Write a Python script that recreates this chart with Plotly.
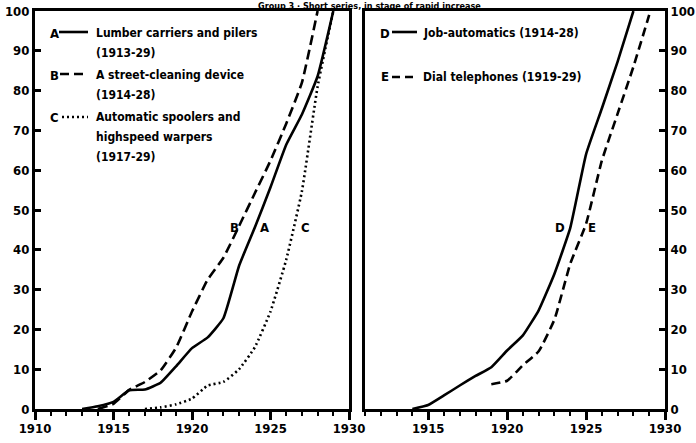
import plotly.graph_objects as go

# ---- data ----
years_A = list(range(1913, 1930))
vals_A = [0, 0.7, 1.8, 4.7, 4.9, 6.6, 10.8, 15.3, 18.0, 22.8, 36.0, 45.6, 55.7, 66.4, 74.0, 83.6, 100]

years_B = list(range(1914, 1929))
vals_B = [0, 1.3, 4.8, 6.8, 9.7, 15.5, 24.5, 32.5, 38.0, 46.0, 54.2, 62.4, 71.7, 82.0, 100]

years_C = list(range(1917, 1930))
vals_C = [0, 0.4, 1.2, 2.6, 5.9, 6.8, 10.0, 15.5, 24.5, 37.5, 54.7, 81.0, 100]

years_D = list(range(1914, 1929))
vals_D = [0, 1.0, 3.4, 5.9, 8.3, 10.5, 14.7, 18.5, 24.8, 34.0, 45.5, 64.0, 75.5, 87.3, 100]

years_E = list(range(1919, 1930))
vals_E = [6.2, 7.1, 11.0, 14.5, 22.5, 36.5, 46.5, 62.4, 74.2, 86.0, 99.0]

y_ticks = list(range(0, 101, 10))
x_ticks_left = [1910, 1915, 1920, 1925, 1930]
x_ticks_right = [1915, 1920, 1925, 1930]

title_text = "Group 3 \u00b7 Short series, in stage of rapid increase"

FONT = "DejaVu Sans Condensed, Liberation Sans Narrow, Roboto Condensed, Liberation Sans"
W, H = 696, 443

fig = go.Figure()

def add(x, y, dash, xa, ya):
    fig.add_trace(go.Scatter(x=x, y=y, mode="lines", xaxis=xa, yaxis=ya,
                             line=dict(color="black", width=2.6, dash=dash,
                                       shape="spline", smoothing=0.4),
                             showlegend=False, hoverinfo="skip", cliponaxis=True))

add(years_A, vals_A, "solid", "x", "y")
add(years_B, vals_B, "10px,5px", "x", "y")
add(years_C, vals_C, "2px,3px", "x", "y")
add(years_D, vals_D, "solid", "x2", "y2")
add(years_E, vals_E, "9px,5px", "x2", "y2")

def px(x):
    return x / W

def py(y):
    return 1 - y / H

ydom = [py(409), py(11)]
tickfont = dict(family=FONT, size=13, color="black", weight="bold")

common_x = dict(showline=True, linewidth=3, linecolor="black", mirror=True,
                ticks="outside", ticklen=8, tickwidth=2.5, tickcolor="black",
                minor=dict(dtick=1, ticks="outside", ticklen=4, tickwidth=2, tickcolor="black"),
                showgrid=False, zeroline=False, tickfont=tickfont, ticklabelstandoff=-3,
                automargin=False)
common_y = dict(showline=True, linewidth=3, linecolor="black", mirror=True,
                ticks="inside", ticklen=6, tickwidth=2.5, tickcolor="black",
                showgrid=False, zeroline=False, tickfont=tickfont, range=[0, 100],
                tickvals=y_ticks, domain=ydom, automargin=False)

fig.update_layout(
    width=W, height=H, margin=dict(l=0, r=0, t=0, b=0),
    paper_bgcolor="white", plot_bgcolor="white",
    xaxis=dict(common_x, domain=[px(35), px(349)], range=[1910, 1930], tickvals=x_ticks_left, anchor="y"),
    yaxis=dict(common_y, anchor="x", side="left"),
    xaxis2=dict(common_x, domain=[px(365), px(665)], range=[1911, 1930], tickvals=x_ticks_right, anchor="y2"),
    yaxis2=dict(common_y, anchor="x2", side="right"),
)

ann_font = dict(family=FONT, size=12, color="black", weight="bold")

def text(x, y, s, anchor="left", size=12, yanchor="middle"):
    f = dict(ann_font, size=size)
    fig.add_annotation(x=px(x), y=py(y), xref="paper", yref="paper", text=s,
                       showarrow=False, xanchor=anchor, yanchor=yanchor, font=f)

def sample(x0, x1, y, dash):
    fig.add_shape(type="line", xref="paper", yref="paper", x0=px(x0), x1=px(x1),
                  y0=py(y), y1=py(y), line=dict(color="black", width=2.6, dash=dash))

# title (at the very top edge)
fig.add_annotation(x=px(369), y=1, xref="paper", yref="paper", text=title_text,
                   showarrow=False, xanchor="center", yanchor="top", borderpad=0,
                   font=dict(ann_font, size=9))

# left legend
text(54, 33, "A", anchor="center", size=13)
sample(59, 88, 32, "solid")
text(94, 33, "Lumber carriers and pilers")
text(94, 53, "(1913-29)")
text(54, 75, "B", anchor="center", size=13)
sample(60, 88, 74, "9px,5px")
text(94, 75, "A street-cleaning device")
text(94, 95, "(1914-28)")
text(54, 117, "C", anchor="center", size=13)
sample(62, 88, 117, "2px,3px")
text(94, 117, "Automatic spoolers and")
text(94, 137, "highspeed warpers")
text(94, 157, "(1917-29)")

# right legend
text(385, 33, "D", anchor="center", size=13)
sample(392, 417, 32, "solid")
text(421, 33, "Job-automatics (1914-28)")
text(385, 77, "E", anchor="center", size=13)
sample(392, 418, 77, "8px,5px")
text(421, 77, "Dial telephones (1919-29)")

# curve labels
for lx, s in [(234, "B"), (264, "A"), (305, "C"), (560, "D"), (592, "E")]:
    text(lx, 227, s, anchor="center", size=13)

fig.write_html("out.html", config={"displayModeBar": False},
               post_script="document.body.style.margin='0';")
